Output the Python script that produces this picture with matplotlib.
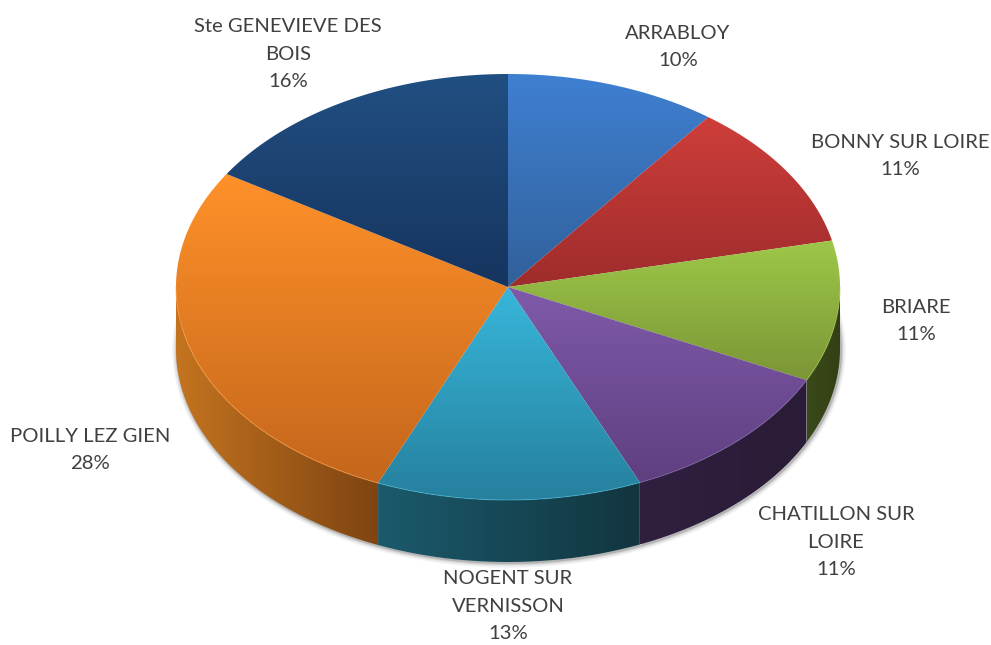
"""Pseudo-3D pie of the share per commune, drawn on a pixel-sized axes."""

import matplotlib

matplotlib.use("Agg")
import matplotlib.pyplot as plt
import numpy as np
from matplotlib.colors import LinearSegmentedColormap
from matplotlib.patches import Polygon

COMMUNES = [
    "ARRABLOY",
    "BONNY SUR LOIRE",
    "BRIARE",
    "CHATILLON SUR\nLOIRE",
    "NOGENT SUR\nVERNISSON",
    "POILLY LEZ GIEN",
    "Ste GENEVIEVE DES\nBOIS",
]
PERCENT_LABELS = ["10%", "11%", "11%", "11%", "13%", "28%", "16%"]
SHARES = [10.3, 11.2, 10.7, 11.3, 12.9, 27.5, 16.1]

TOP_LIGHT = ["#3F80D2", "#CE3E3A", "#9DC749", "#7F5AAA", "#38B6DA", "#FF9129", "#214F82"]
TOP_DARK = ["#31609A", "#9E2C2C", "#7B9636", "#5F3F80", "#26809E", "#C4661C", "#16345E"]
SIDE_LIGHT = ["#2A5080", "#7A2020", "#3A4A18", "#2F2040", "#1B5A6B", "#C4741F", "#14305A"]
SIDE_DARK = ["#2A5080", "#7A2020", "#333F15", "#2A1C36", "#123540", "#7E4412", "#14305A"]
RIM = ["#4A8CDC", "#D84A44", "#A8D050", "#8A66B4", "#45C0E0", "#FFA040", "#2A5A90"]

LABEL_X = [678, 900, 916, 836, 508, 90, 288]
LABEL_Y = [47, 156, 321, 542, 606, 450, 54]

CX, CY = 508.0, 287.0
RX, RY = 332.0, 213.0
DEPTH = 62.0


def rim_xy(start, stop, dy=0.0, n=120):
    """Points on the ellipse, angles in degrees clockwise from twelve o'clock."""
    th = np.radians(np.linspace(start, stop, n))
    return CX + RX * np.sin(th), CY + dy - RY * np.cos(th)


def gradient_fill(ax, xy, light, dark, horizontal=False, zorder=2):
    cmap = LinearSegmentedColormap.from_list("g", [light, dark])
    x0, y0 = xy.min(axis=0)
    x1, y1 = xy.max(axis=0)
    ramp = np.linspace(0, 1, 256)
    ramp = ramp[None, :] if horizontal else ramp[:, None]
    im = ax.imshow(ramp, cmap=cmap, extent=(x0, x1, y1, y0), aspect="auto",
                   interpolation="bilinear", zorder=zorder)
    patch = Polygon(xy, closed=True, transform=ax.transData, fc="none", ec="none")
    ax.add_patch(patch)
    im.set_clip_path(patch)


def main():
    plt.rcParams["font.family"] = ["Lato", "DejaVu Sans"]
    fig = plt.figure(figsize=(9.91, 6.45), dpi=100)
    ax = fig.add_axes([0, 0, 1, 1])

    # soft shadow under the body
    sx, sy = rim_xy(78, 282, dy=DEPTH, n=240)
    for lw, alpha in [(7, 0.05), (5, 0.08), (3, 0.12), (1.5, 0.2)]:
        ax.plot(sx + 1, sy + 1, color="#404040", lw=lw, alpha=alpha, zorder=1,
                solid_capstyle="round")

    edges = np.cumsum([0] + SHARES) / sum(SHARES) * 360.0

    for i in range(len(SHARES)):
        start, stop = edges[i], edges[i + 1]

        # side wall, only the front half of the pie shows
        lo, hi = max(start, 90.0), min(stop, 270.0)
        if lo < hi:
            tx, ty = rim_xy(lo, hi)
            bx, by = rim_xy(hi, lo, dy=DEPTH)
            wall = np.column_stack([np.r_[tx, bx], np.r_[ty, by]])
            gradient_fill(ax, wall, SIDE_LIGHT[i], SIDE_DARK[i], horizontal=True, zorder=2)

        # top face
        tx, ty = rim_xy(start, stop)
        top = np.column_stack([np.r_[CX, tx], np.r_[CY, ty]])
        gradient_fill(ax, top, TOP_LIGHT[i], TOP_DARK[i], zorder=3)

        if lo < hi:
            rx_, ry_ = rim_xy(lo, hi)
            ax.plot(rx_, ry_, color=RIM[i], lw=0.8, alpha=0.5, zorder=4)

    for name, pct, x, y in zip(COMMUNES, PERCENT_LABELS, LABEL_X, LABEL_Y):
        ax.text(x, y, f"{name}\n{pct}", ha="center", va="center",
                fontsize=14.6, color="#404040", linespacing=1.78, zorder=5)

    ax.set_xlim(0, 991)
    ax.set_ylim(645, 0)
    ax.axis("off")
    fig.savefig("out.png", dpi=100, facecolor="white")
    plt.close(fig)


if __name__ == "__main__":
    main()
